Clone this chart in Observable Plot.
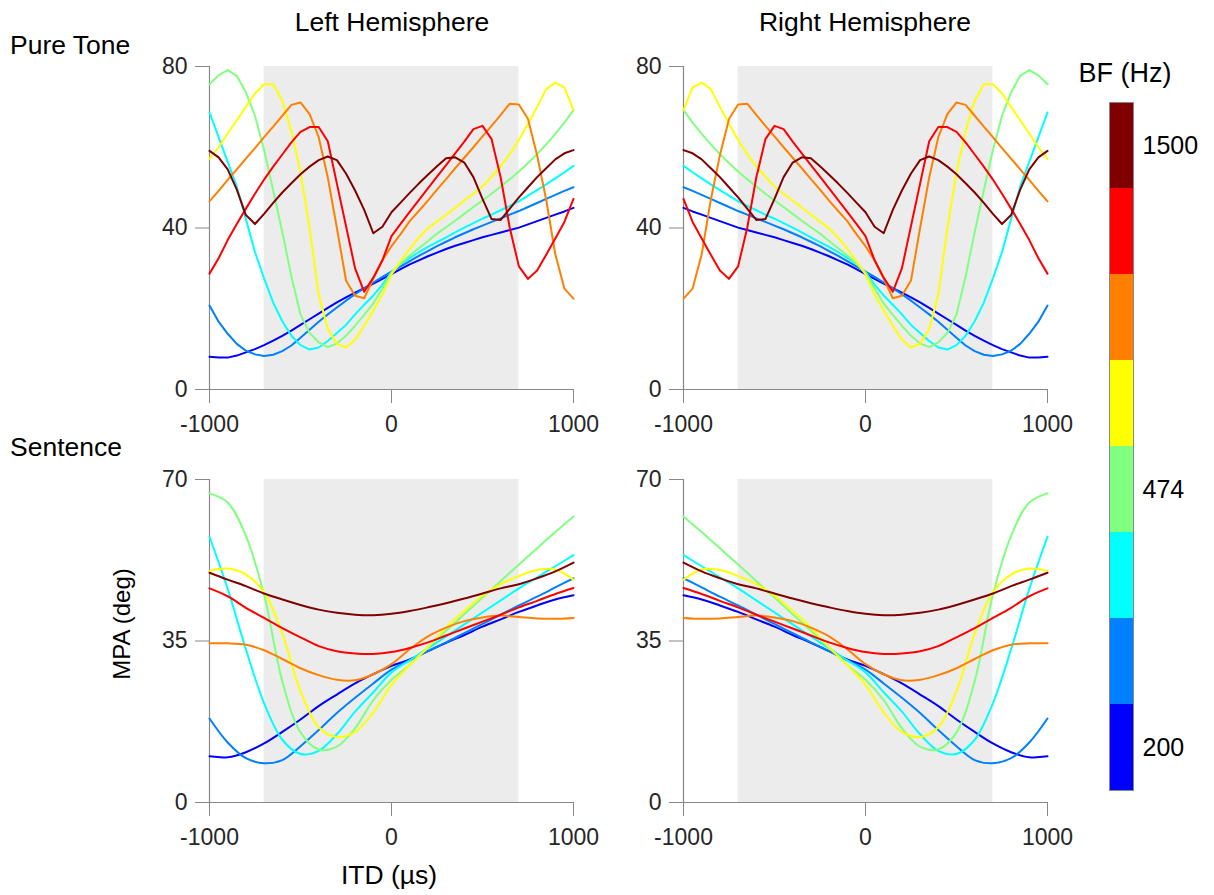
<!DOCTYPE html>
<html>
<head>
<meta charset="utf-8">
<script src="https://cdn.jsdelivr.net/npm/d3@7"></script>
<script src="https://cdn.jsdelivr.net/npm/@observablehq/plot@0.6"></script>
<style>
  body { margin: 0; background: #fff; }
  #wrap { position: relative; width: 1214px; height: 895px; font-family: "Liberation Sans", Arial, Helvetica, sans-serif; color: #000; background: #fff; overflow: hidden; }
  .lbl { position: absolute; white-space: nowrap; transform: translate(-50%, -50%); font-size: 26.5px; }
  .lft { position: absolute; white-space: nowrap; transform: translate(0, -50%); font-size: 26.5px; }
  .panel { position: absolute; }
</style>
</head>
<body>
<div id="wrap"></div>
<script>
// ---- categories / colours ----
const bf = [200, 267, 356, 474, 632, 843, 1125, 1500];
const bfColors = ["#0000ff", "#0080ff", "#00ffff", "#80ff80", "#ffff00", "#ff8000", "#ff0000", "#800000"];
const bfTickLabels = [200, 474, 1500];

// ---- axes ----
const xTicks = [-1000, 0, 1000];
const ptTicks = [0, 40, 80];
const senTicks = [0, 35, 70];
const shadeITD = [-700, 700];

// ---- ITD grids (µs) ----
const itdFine = [-1000, -950, -900, -850, -800, -750, -700, -650, -600, -550, -500, -450, -400, -350, -300, -250, -200, -150, -100, -50, 0,
                 50, 100, 150, 200, 250, 300, 350, 400, 450, 500, 550, 600, 650, 700, 750, 800, 850, 900, 950, 1000];
const itdCoarse = [-1000, -900, -800, -700, -600, -500, -400, -300, -200, -100, 0, 100, 200, 300, 400, 500, 600, 700, 800, 900, 1000];

// ---- Pure tone, left hemisphere (MPA deg) at itdFine ----
const pt200 = [8.1, 7.9, 7.9, 8.4, 9.2, 10, 11, 12.1, 13.3, 14.6, 16, 17.4, 18.8, 20.2, 21.6, 22.8, 24, 25.1, 26.2, 27.4, 28.6, 29.8, 31, 32, 33, 33.9, 34.8, 35.6, 36.3, 37, 37.7, 38.3, 38.9, 39.5, 40.1, 40.9, 41.7, 42.5, 43.3, 44.1, 45];
const pt267 = [20.8, 16.8, 13.8, 11.3, 9.6, 8.7, 8.3, 8.6, 9.5, 10.9, 12.8, 14.8, 16.8, 18.6, 20.3, 22, 23.6, 25.1, 26.5, 27.9, 29.2, 30.5, 31.8, 33.1, 34.3, 35.5, 36.6, 37.7, 38.7, 39.7, 40.6, 41.5, 42.4, 43.3, 44.2, 45.2, 46.2, 47.2, 48.2, 49.2, 50.1];
const pt356 = [68.6, 62.5, 56.4, 50.3, 42.2, 34, 27.5, 21.5, 16.9, 13.3, 11, 9.9, 10.4, 12, 14, 16, 18.6, 21, 23.3, 26, 29, 31.1, 32.6, 34, 35.3, 36.5, 37.7, 38.9, 40.1, 41.2, 42.3, 43.3, 44.4, 45.5, 46.6, 48, 49.4, 50.8, 52.3, 53.8, 55.4];
const pt474 = [75.6, 77.8, 79.1, 77.7, 73.6, 67.8, 59.3, 49.3, 39, 28, 18.6, 14, 11.7, 10.5, 11.4, 13.3, 15.8, 18.5, 21.3, 25, 29, 31.2, 33.2, 35, 36.8, 38.6, 40.2, 41.8, 43.5, 45.2, 46.8, 48.5, 50.3, 52.1, 54, 56.1, 58.3, 60.7, 63.3, 66.1, 69.2];
const pt632 = [57.1, 60, 63.4, 66.7, 70, 73.3, 75.6, 75.6, 71.5, 64, 53.8, 40, 23.5, 15, 11.3, 10.4, 12.3, 15.8, 19.6, 23.5, 28.5, 31.8, 34.8, 37.6, 39.9, 41.6, 43.3, 45, 46.8, 48.5, 50.3, 52.7, 55.3, 58.3, 61.8, 65.8, 70, 74.4, 76, 74.8, 69.2];
const pt843 = [46.6, 49.2, 51.9, 54.5, 57.2, 59.8, 62.5, 65.1, 67.8, 70.5, 71.1, 68.2, 62.5, 52.5, 40, 27, 23.2, 22.6, 27.5, 32, 35.5, 38.5, 41.7, 44.2, 46.8, 49.5, 52.1, 54.8, 57.4, 60, 62.7, 65.3, 68, 70.8, 70.6, 67, 58, 47, 33.5, 25, 22.5];
const pt1125 = [28.7, 32.5, 37, 41, 44.8, 48.5, 52, 55.2, 58.2, 61.2, 63.8, 65, 65, 61.5, 51, 40.5, 30, 24.2, 27.7, 32, 38, 41, 44, 46.9, 49.8, 52.7, 55.6, 58.5, 61.4, 64.5, 65.3, 62, 52.5, 40, 30.5, 27.4, 29.5, 33.4, 37.4, 41.5, 47.2];
const pt1500 = [59.1, 57.5, 54.5, 49.5, 43.2, 41, 43.5, 46.2, 48.8, 51.1, 53.3, 55.2, 56.8, 57.7, 56.8, 53.5, 49.3, 44.5, 38.7, 40.3, 43.9, 46.3, 48.7, 51, 53.2, 55.3, 57.3, 57.5, 56.2, 52.6, 47.2, 42.2, 42, 44.8, 47.6, 50.1, 52.6, 54.8, 57, 58.5, 59.3];

// ---- Sentence, left hemisphere (MPA deg) at itdCoarse ----
const sen200 = [10, 9.8, 10.9, 12.8, 15.3, 18, 20.9, 23.4, 25.8, 27.8, 29.6, 31, 32.8, 34.6, 36.3, 38.1, 39.7, 41.3, 42.7, 44, 44.9];
const sen267 = [18.2, 13, 9.6, 8.5, 9.2, 12.2, 15.7, 19.4, 22.7, 25.8, 28.8, 30.8, 32.8, 34.7, 36.7, 38.7, 40.7, 42.7, 44.6, 46.6, 48.6];
const sen356 = [57.6, 46.3, 33.2, 21.5, 13.6, 10.5, 11.2, 14.8, 19.7, 23.9, 28.2, 30.8, 33.4, 36, 38.6, 41.2, 43.8, 46.4, 48.8, 51.2, 53.6];
const sen474 = [67, 65, 57.8, 45, 26.3, 15.2, 11.5, 12.1, 16.1, 22.2, 26.6, 29.8, 33.6, 37.2, 40.8, 44.4, 48, 51.6, 55.1, 58.6, 62];
const sen632 = [50.2, 50.7, 49.4, 45.6, 36.6, 24.1, 16.3, 14.2, 15.3, 19.5, 25.5, 29.8, 33.6, 37.9, 41.5, 44.8, 47.3, 49.1, 50.4, 50.5, 48.3];
const sen843 = [34.5, 34.5, 34.2, 33, 31.1, 29.1, 27.6, 26.6, 26.5, 27.8, 30, 33.2, 36, 37.9, 39.3, 40.1, 40.5, 40.2, 39.9, 39.8, 40];
const sen1125 = [46.4, 44.7, 42.2, 40, 37.8, 35.8, 33.9, 32.8, 32.3, 32.2, 32.6, 33.5, 34.7, 36.2, 37.7, 39.2, 40.7, 42.3, 43.7, 45.2, 46.5];
const sen1500 = [49.8, 48.3, 46.9, 45.3, 44, 42.8, 41.8, 41.1, 40.7, 40.6, 40.9, 41.5, 42.3, 43.2, 44.2, 45.3, 46.4, 47.3, 48.6, 50.1, 52];

const ptSeries = [pt200, pt267, pt356, pt474, pt632, pt843, pt1125, pt1500];
const senSeries = [sen200, sen267, sen356, sen474, sen632, sen843, sen1125, sen1500];

// The right hemisphere panels are the mirror image (ITD -> -ITD) of the left ones.
function rows(series, grid, sign) {
  const out = [];
  series.forEach((vals, k) => vals.forEach((v, i) => out.push({itd: sign * grid[i], mpa: v, bf: bf[k]})));
  return out;
}

const FONT = '"Liberation Sans", Arial, Helvetica, sans-serif';

function panel(data, yMax, yTicks, curve) {
  return Plot.plot({
    width: 440, height: 383,
    marginLeft: 60, marginRight: 16, marginTop: 10, marginBottom: 50,
    style: {fontFamily: FONT, fontSize: "23px", color: "#262626", background: "transparent", overflow: "visible"},
    x: {domain: [-1000, 1000]},
    y: {domain: [0, yMax]},
    color: {type: "ordinal", domain: bf, range: bfColors},
    marks: [
      Plot.rect([{x1: shadeITD[0], x2: shadeITD[1], y1: 0, y2: yMax}], {x1: "x1", x2: "x2", y1: "y1", y2: "y2", fill: "#ececec"}),
      Plot.ruleY([0], {stroke: "#888", strokeWidth: 1.2}),
      Plot.ruleX([-1000], {stroke: "#888", strokeWidth: 1.2}),
      Plot.axisX({ticks: xTicks, tickSize: 14, tickPadding: 12, stroke: "#888", fill: "#262626", label: null, tickFormat: d => String(d)}),
      Plot.axisY({ticks: yTicks, tickSize: 14, tickPadding: 8, stroke: "#888", fill: "#262626", label: null, tickFormat: d => String(d)}),
      Plot.line(data, {x: "itd", y: "mpa", z: "bf", stroke: "bf", strokeWidth: 2, curve})
    ]
  });
}

const wrap = document.getElementById("wrap");
function place(node, left, top) {
  node.classList.add("panel");
  node.style.left = left + "px";
  node.style.top = top + "px";
  wrap.appendChild(node);
}

place(panel(rows(ptSeries, itdFine, 1), 80, ptTicks, "linear"), 149, 56);
place(panel(rows(ptSeries, itdFine, -1), 80, ptTicks, "linear"), 623, 56);
place(panel(rows(senSeries, itdCoarse, 1), 70, senTicks, "catmull-rom"), 149, 469);
place(panel(rows(senSeries, itdCoarse, -1), 70, senTicks, "catmull-rom"), 623, 469);

// colour bar
const cbar = Plot.plot({
  width: 110, height: 688,
  marginLeft: 0, marginRight: 86, marginTop: 0, marginBottom: 0,
  style: {fontFamily: FONT, fontSize: "25px", color: "#000", background: "transparent", overflow: "visible"},
  y: {type: "band", domain: bf.slice().reverse(), padding: 0, axis: null},
  color: {type: "ordinal", domain: bf, range: bfColors},
  marks: [
    Plot.cell(bf, {y: d => d, fill: d => d}),
    Plot.frame({stroke: "#888"}),
    Plot.axisY({anchor: "right", ticks: bfTickLabels, tickSize: 0, tickPadding: 9, fill: "#000", label: null, tickFormat: d => String(d)})
  ]
});
place(cbar, 1109, 102);

// text labels
function label(text, x, y, cls, extra) {
  const d = document.createElement("div");
  d.className = cls;
  d.textContent = text;
  d.style.left = x + "px";
  d.style.top = y + "px";
  if (extra) Object.assign(d.style, extra);
  wrap.appendChild(d);
}
label("Left Hemisphere", 392, 22, "lbl");
label("Right Hemisphere", 865, 22, "lbl");
label("Pure Tone", 10, 45, "lft");
label("Sentence", 10, 447, "lft");
label("MPA (deg)", 122, 624, "lbl", {transform: "translate(-50%, -50%) rotate(-90deg)", fontSize: "24px"});
label("ITD (µs)", 389, 875, "lbl");
label("BF (Hz)", 1125, 73, "lbl", {fontSize: "27px"});
</script>
</body>
</html>
